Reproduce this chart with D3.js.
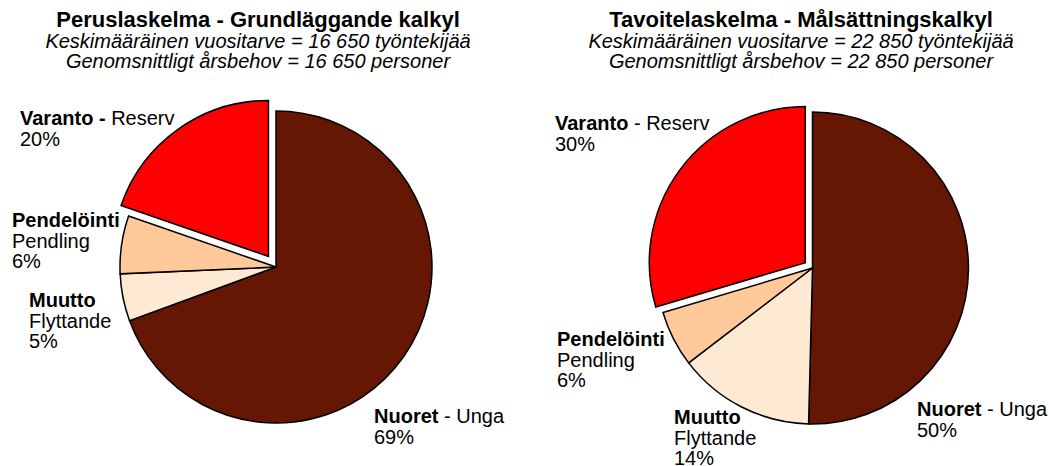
<!DOCTYPE html>
<html>
<head>
<meta charset="utf-8">
<script src="https://cdn.jsdelivr.net/npm/d3@7"></script>
<style>
  body { margin: 0; background: #fff; overflow: hidden; }
  text { font-family: "Liberation Sans", Arial, sans-serif; fill: #000; }
</style>
</head>
<body>
<script>
var width = 1049,
    height = 466;

// data
var categories = ["Nuoret", "Muutto", "Pendelöinti", "Varanto"];
var categoriesSv = ["Unga", "Flyttande", "Pendling", "Reserv"];
var basicValues = [69.4, 4.9, 6.0, 19.7];
var targetValues = [50.4, 14.2, 5.8, 29.6];
var titles = ["Peruslaskelma - Grundläggande kalkyl", "Tavoitelaskelma - Målsättningskalkyl"];
var subtitlesFi = ["Keskimääräinen vuositarve = 16 650 työntekijää", "Keskimääräinen vuositarve = 22 850 työntekijää"];
var subtitlesSv = ["Genomsnittligt årsbehov = 16 650 personer", "Genomsnittligt årsbehov = 22 850 personer"];

var colors = d3.scaleOrdinal()
    .domain(categories)
    .range(["#661703", "#fee9d2", "#ffc999", "#ff0000"]);

var radius = 156;

// layout of the two pies (label offsets relative to pie centre)
var pies = [
  { values: basicValues, cx: 276, cy: 267, titleX: 258, explode: 13,
    labels: [[98, 156, "inline"], [-247, 40, "stack"], [-264, -40, "stack"], [-256, -142, "inlineBoldDash"]] },
  { values: targetValues, cx: 812.5, cy: 268, titleX: 801, explode: 9,
    labels: [[104.5, 148, "inline"], [-138.5, 156, "stack"], [-255.5, 78, "stack"], [-257.5, -138, "inline"]] }
];

var svg = d3.select("body").append("svg")
    .attr("width", width)
    .attr("height", height);

var pie = d3.pie().sort(null).value(function(d) { return d; });
var arc = d3.arc().innerRadius(0).outerRadius(radius);

pies.forEach(function(p, i) {
  // titles
  var t = svg.append("g").attr("transform", "translate(" + p.titleX + ",0)");
  t.append("text").attr("y", 27).attr("text-anchor", "middle")
      .style("font-weight", "bold").style("font-size", "22px").text(titles[i]);
  t.append("text").attr("y", 48).attr("text-anchor", "middle")
      .style("font-style", "italic").style("font-size", "20px").text(subtitlesFi[i]);
  t.append("text").attr("y", 68).attr("text-anchor", "middle")
      .style("font-style", "italic").style("font-size", "20px").text(subtitlesSv[i]);

  var g = svg.append("g").attr("transform", "translate(" + p.cx + "," + p.cy + ")");
  var arcs = pie(p.values);

  g.selectAll("path")
    .data(arcs)
    .join("path")
      .attr("transform", function(d, j) {
        if (categories[j] !== "Varanto") return null;
        var a = (d.startAngle + d.endAngle) / 2;
        return "translate(" + (Math.sin(a) * p.explode) + "," + (-Math.cos(a) * p.explode) + ")";
      })
      .attr("d", arc)
      .attr("fill", function(d, j) { return colors(categories[j]); })
      .attr("stroke", "#000")
      .attr("stroke-width", 1.5)
      .attr("stroke-linejoin", "miter");

  // labels
  var lab = g.selectAll("text.lab")
    .data(arcs)
    .join("text")
      .attr("class", "lab")
      .style("font-size", "20px")
      .attr("x", function(d, j) { return p.labels[j][0]; })
      .attr("y", function(d, j) { return p.labels[j][1]; });

  lab.each(function(d, j) {
    var el = d3.select(this);
    var x = p.labels[j][0];
    var mode = p.labels[j][2];
    var pct = Math.round(d.data) + "%";
    if (mode === "stack") {
      el.append("tspan").style("font-weight", "bold").text(categories[j]);
      el.append("tspan").attr("x", x).attr("dy", 20.5).text(categoriesSv[j]);
      el.append("tspan").attr("x", x).attr("dy", 20.5).text(pct);
    } else {
      el.append("tspan").style("font-weight", "bold")
        .text(mode === "inlineBoldDash" ? categories[j] + " -" : categories[j]);
      el.append("tspan").text(mode === "inlineBoldDash" ? " " + categoriesSv[j] : " - " + categoriesSv[j]);
      el.append("tspan").attr("x", x).attr("dy", 20.5).text(pct);
    }
  });
});
</script>
</body>
</html>
